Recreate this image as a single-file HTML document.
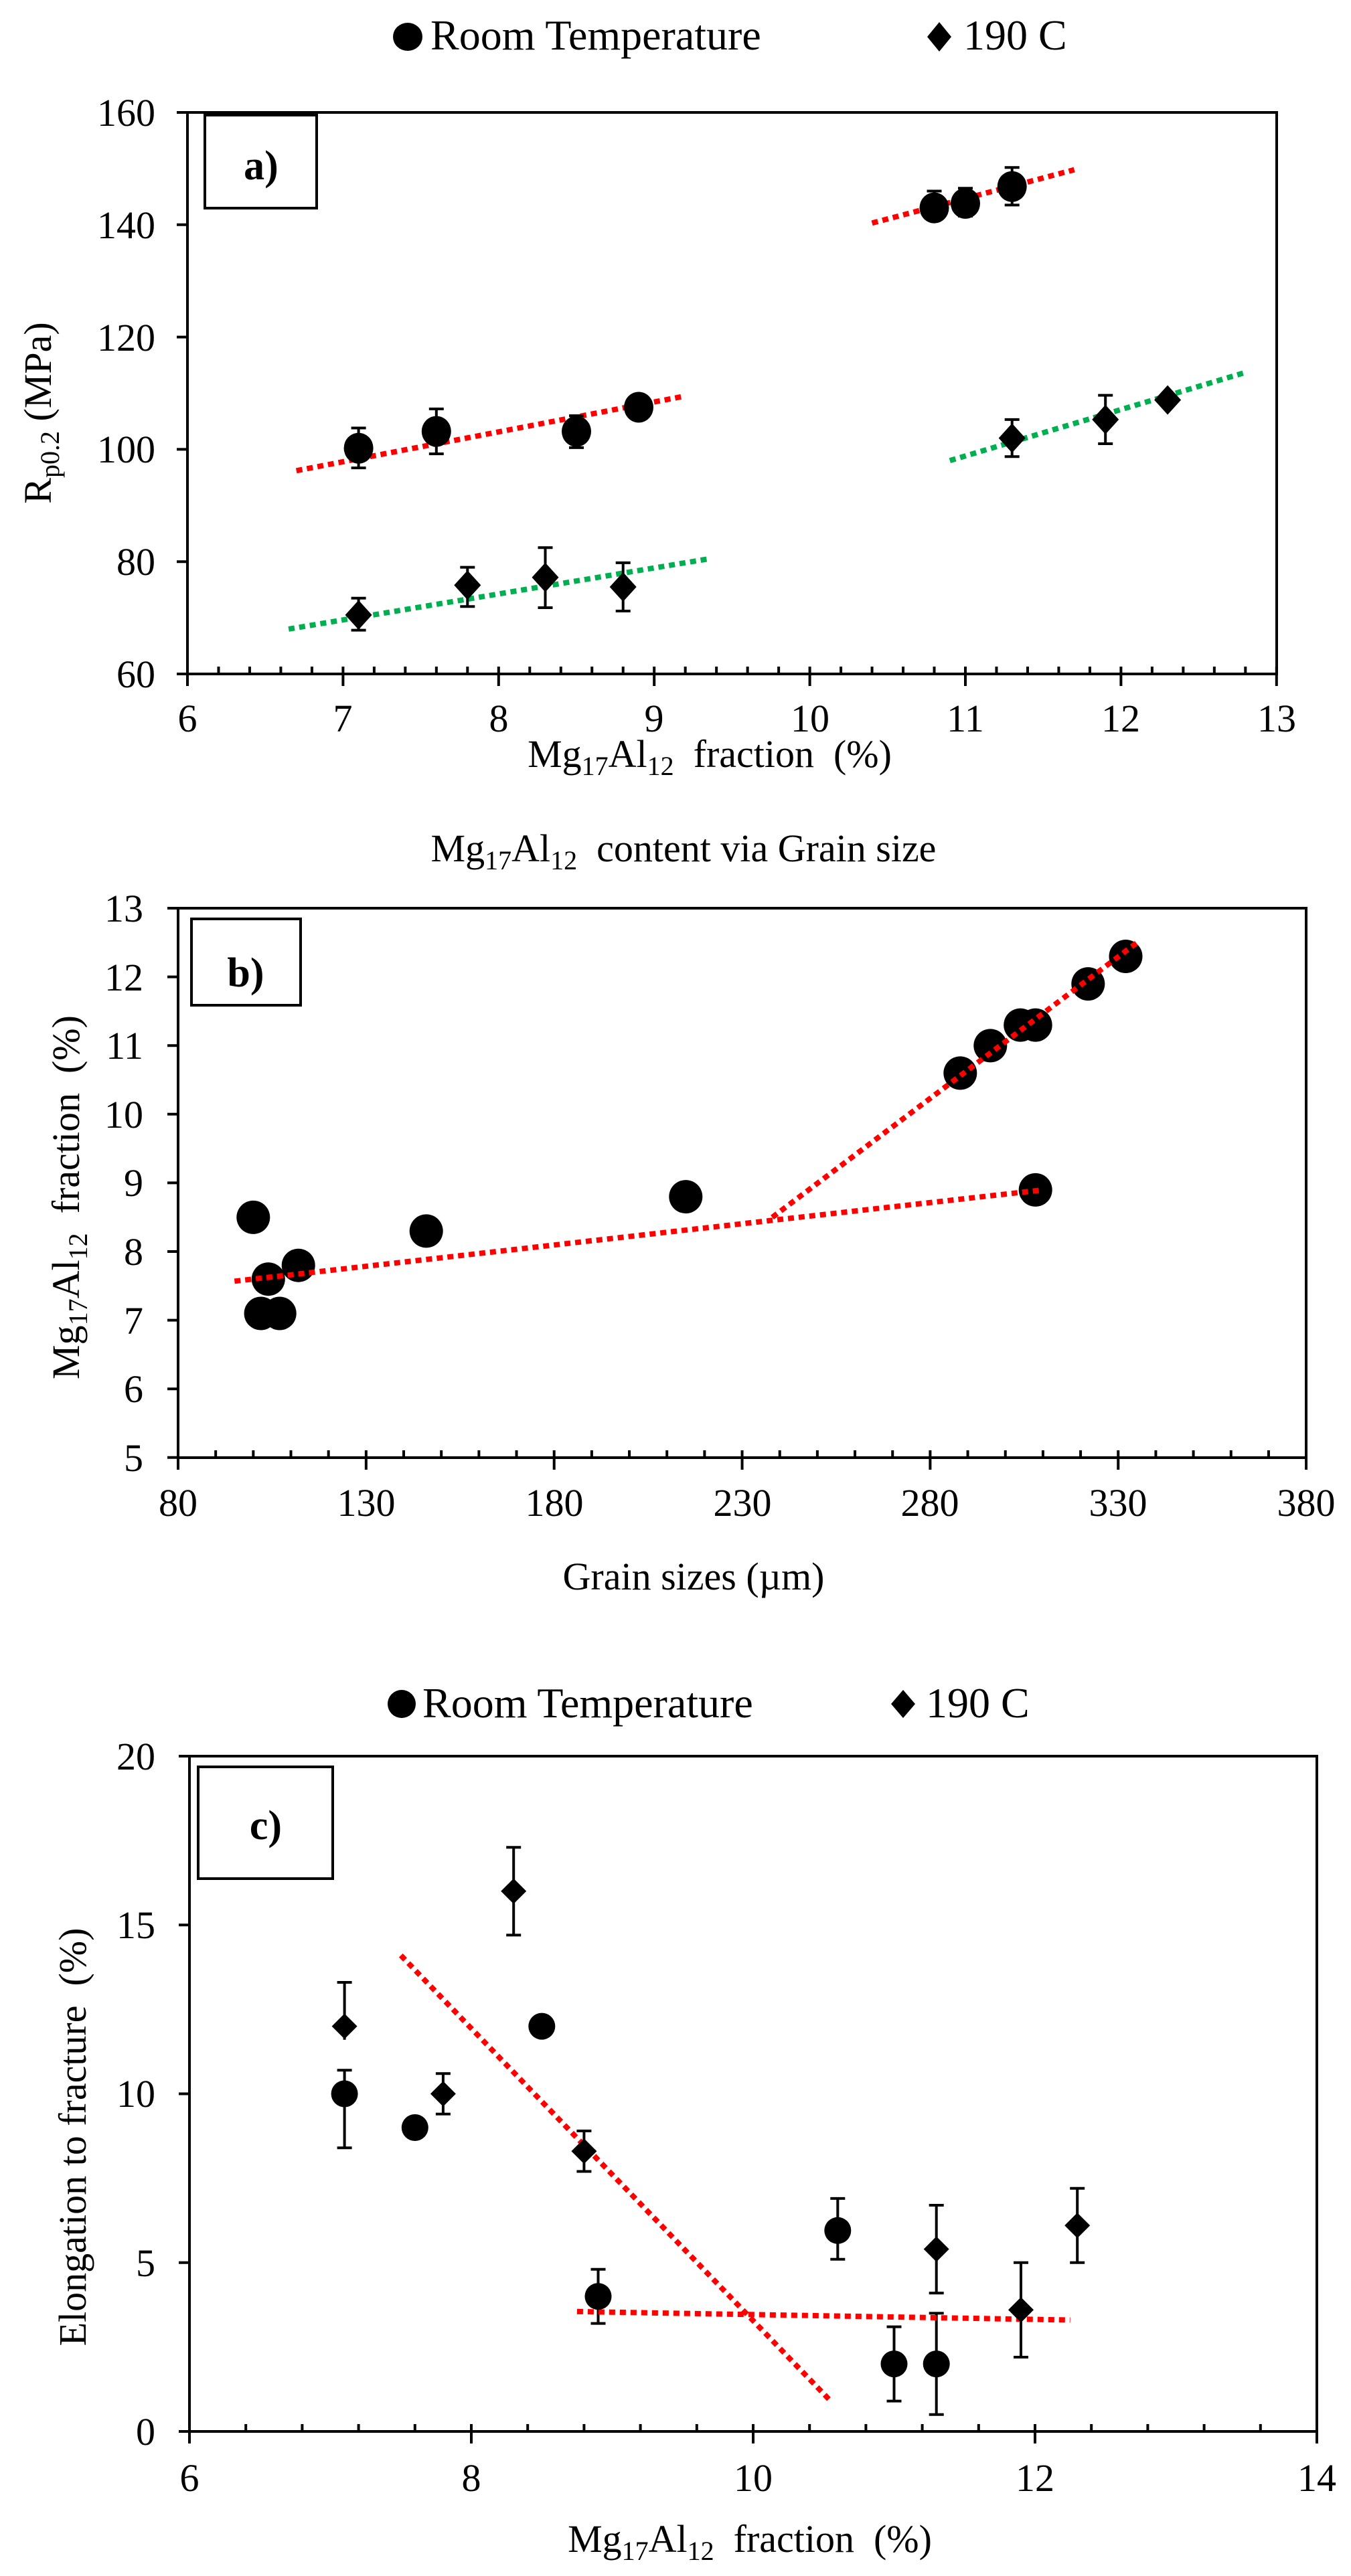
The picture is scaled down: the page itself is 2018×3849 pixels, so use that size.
<!DOCTYPE html>
<html><head><meta charset="utf-8"><style>
html,body{margin:0;padding:0;background:#fff}
svg{display:block}
text{font-family:"Liberation Serif",serif;fill:#000}
</style></head><body>
<svg width="2018" height="3849" viewBox="0 0 2018 3849" xmlns="http://www.w3.org/2000/svg">
<rect width="2018" height="3849" fill="#fff"/>

<!-- ===== Panel a ===== -->
<ellipse cx="609" cy="55" rx="22" ry="21"/>
<text x="643" y="74" font-size="64">Room Temperature</text>
<polygon points="1403,33 1421,55 1403,77 1385,55"/>
<text x="1439" y="74" font-size="64">190 C</text>

<g stroke="#000" stroke-width="4" fill="none">
<rect x="280" y="168" width="1627" height="839"/>
<rect x="306" y="172" width="167" height="139"/>
<line x1="306" y1="170" x2="473" y2="170" stroke-width="6"/>
<line x1="278" y1="1001.5" x2="1910" y2="1001.5" stroke-width="11" stroke-dasharray="4 42.48"/>
<line x1="278" y1="1016" x2="1910" y2="1016" stroke-width="18" stroke-dasharray="4 228.4"/>
<line x1="272" y1="166" x2="272" y2="1012" stroke-width="16" stroke-dasharray="4 163.8"/>
</g>
<text x="390" y="268" font-size="62" font-weight="bold" text-anchor="middle">a)</text>
<g font-size="58" text-anchor="end">
<text x="232" y="188">160</text><text x="232" y="356">140</text><text x="232" y="524">120</text>
<text x="232" y="691">100</text><text x="232" y="859">80</text><text x="232" y="1027">60</text>
</g>
<g font-size="58" text-anchor="middle">
<text x="280" y="1093">6</text><text x="512" y="1093">7</text><text x="745" y="1093">8</text><text x="977" y="1093">9</text>
<text x="1210" y="1093">10</text><text x="1442" y="1093">11</text><text x="1674" y="1093">12</text><text x="1907" y="1093">13</text>
</g>
<text transform="translate(76,617) rotate(-90)" font-size="58" text-anchor="middle">R<tspan font-size="40" dy="12">p0.2</tspan><tspan dy="-12">&#160;(MPa)</tspan></text>
<text x="1060" y="1146" font-size="58" text-anchor="middle">Mg<tspan font-size="40" dy="12">17</tspan><tspan dy="-12">Al</tspan><tspan font-size="40" dy="12">12</tspan><tspan dy="-12">&#160;&#160;fraction&#160;&#160;(%)</tspan></text>

<g stroke-width="8" stroke-dasharray="9 7" fill="none">
<line x1="442.7" y1="703.3" x2="1023.7" y2="591.7" stroke="#ff0000"/>
<line x1="1302.6" y1="333.3" x2="1604.7" y2="253.6" stroke="#ff0000"/>
<line x1="431.1" y1="939.9" x2="1058.5" y2="835" stroke="#00b050"/>
<line x1="1418.8" y1="688.2" x2="1860.3" y2="556.5" stroke="#00b050"/>
</g>
<g stroke="#000" stroke-width="4">
<path d="M535.6 699.1V639.5M524.6 699.1h22M524.6 639.5h22
M651.8 678.1V611M640.8 678.1h22M640.8 611h22
M861 668.9V621.1M850 668.9h22M850 621.1h22
M1395.5 327.4V285.5M1384.5 327.4h22M1384.5 285.5h22
M1442 323V281.3M1431 323h22M1431 281.3h22
M1511.7 306.4V250.2M1500.7 306.4h22M1500.7 250.2h22
M535.6 941.6V893.7M524.6 941.6h22M524.6 893.7h22
M698.3 906.3V847.6M687.3 906.3h22M687.3 847.6h22
M814.5 908V818.2M803.5 908h22M803.5 818.2h22
M930.7 913V840.9M919.7 913h22M919.7 840.9h22
M1511.7 682.3V626.9M1500.7 682.3h22M1500.7 626.9h22
M1651.2 663V590.6M1640.2 663h22M1640.2 590.6h22"/>
</g>
<g>
<ellipse cx="535.6" cy="669.7" rx="22" ry="23"/>
<ellipse cx="651.8" cy="644.6" rx="22" ry="23"/>
<ellipse cx="861" cy="644.6" rx="22" ry="23"/>
<ellipse cx="954" cy="608.5" rx="22" ry="23"/>
<ellipse cx="1395.5" cy="310.6" rx="22" ry="23"/>
<ellipse cx="1442" cy="303.9" rx="22" ry="23"/>
<ellipse cx="1511.7" cy="278.7" rx="22" ry="23"/>
<polygon points="535.6,896.9 555.6,918.9 535.6,940.9 515.6,918.9"/>
<polygon points="698.3,852.4 718.3,874.4 698.3,896.4 678.3,874.4"/>
<polygon points="814.5,840.7 834.5,862.7 814.5,884.7 794.5,862.7"/>
<polygon points="930.7,855 950.7,877 930.7,899 910.7,877"/>
<polygon points="1511.7,632.6 1531.7,654.6 1511.7,676.6 1491.7,654.6"/>
<polygon points="1651.2,604.9 1671.2,626.9 1651.2,648.9 1631.2,626.9"/>
<polygon points="1744.1,575.6 1764.1,597.6 1744.1,619.6 1724.1,597.6"/>
</g>

<!-- ===== Panel b ===== -->
<text x="1021" y="1287" font-size="58" text-anchor="middle">Mg<tspan font-size="40" dy="12">17</tspan><tspan dy="-12">Al</tspan><tspan font-size="40" dy="12">12</tspan><tspan dy="-12">&#160;&#160;content via Grain size</tspan></text>
<g stroke="#000" stroke-width="4" fill="none">
<rect x="266" y="1357" width="1685" height="821"/>
<rect x="286" y="1373" width="163" height="129"/>
<line x1="264" y1="2172.5" x2="1953" y2="2172.5" stroke-width="11" stroke-dasharray="4 52.17"/>
<line x1="264" y1="2187" x2="1953" y2="2187" stroke-width="18" stroke-dasharray="4 276.85"/>
<line x1="258" y1="1355" x2="258" y2="2182" stroke-width="16" stroke-dasharray="4 98.6"/>
</g>
<text x="367" y="1474" font-size="62" font-weight="bold" text-anchor="middle">b)</text>
<g font-size="58" text-anchor="end">
<text x="214" y="1377">13</text><text x="214" y="1480">12</text><text x="214" y="1582">11</text><text x="214" y="1685">10</text>
<text x="214" y="1787">9</text><text x="214" y="1890">8</text><text x="214" y="1993">7</text><text x="214" y="2095">6</text><text x="214" y="2198">5</text>
</g>
<g font-size="58" text-anchor="middle">
<text x="266" y="2265">80</text><text x="547" y="2265">130</text><text x="828" y="2265">180</text><text x="1109" y="2265">230</text>
<text x="1389" y="2265">280</text><text x="1670" y="2265">330</text><text x="1951" y="2265">380</text>
</g>
<text transform="translate(118,1789) rotate(-90)" font-size="58" text-anchor="middle">Mg<tspan font-size="40" dy="12">17</tspan><tspan dy="-12">Al</tspan><tspan font-size="40" dy="12">12</tspan><tspan dy="-12">&#160;&#160;fraction&#160;&#160;(%)</tspan></text>
<text x="1036" y="2375" font-size="58" text-anchor="middle">Grain sizes (µm)</text>
<g>
<ellipse cx="378.3" cy="1818.9" rx="25" ry="25"/>
<ellipse cx="389.6" cy="1962.5" rx="25" ry="25"/>
<ellipse cx="400.8" cy="1911.2" rx="25" ry="25"/>
<ellipse cx="417.7" cy="1962.5" rx="25" ry="25"/>
<ellipse cx="445.7" cy="1890.7" rx="25" ry="25"/>
<ellipse cx="636.7" cy="1839.4" rx="25" ry="25"/>
<ellipse cx="1024.3" cy="1788.1" rx="25" ry="25"/>
<ellipse cx="1434.3" cy="1603.4" rx="25" ry="25"/>
<ellipse cx="1479.3" cy="1562.4" rx="25" ry="25"/>
<ellipse cx="1524.2" cy="1531.6" rx="25" ry="25"/>
<ellipse cx="1546.7" cy="1531.6" rx="25" ry="25"/>
<ellipse cx="1546.7" cy="1777.9" rx="25" ry="25"/>
<ellipse cx="1625.3" cy="1470.1" rx="25" ry="25"/>
<ellipse cx="1681.5" cy="1429" rx="25" ry="25"/>
</g>
<g stroke="#ff0000" stroke-width="8" stroke-dasharray="9 7" fill="none">
<polyline points="350.3,1914.3 1147.9,1824 1558,1777.9"/>
<line x1="1153.5" y1="1818.9" x2="1698.3" y2="1408.5"/>
</g>

<!-- ===== Panel c ===== -->
<ellipse cx="600" cy="2546" rx="21" ry="21"/>
<text x="631" y="2566" font-size="64">Room Temperature</text>
<polygon points="1349,2525 1367,2546 1349,2567 1331,2546"/>
<text x="1383" y="2566" font-size="64">190 C</text>
<g stroke="#000" stroke-width="4" fill="none">
<rect x="283" y="2624" width="1684" height="1009"/>
<rect x="296" y="2640" width="201" height="167"/>
<line x1="281" y1="3627.5" x2="1969" y2="3627.5" stroke-width="11" stroke-dasharray="4 80.2"/>
<line x1="281" y1="3642" x2="1969" y2="3642" stroke-width="18" stroke-dasharray="4 417"/>
<line x1="275" y1="2622" x2="275" y2="3637" stroke-width="16" stroke-dasharray="4 248.25"/>
</g>
<text x="397" y="2748" font-size="62" font-weight="bold" text-anchor="middle">c)</text>
<g font-size="58" text-anchor="end">
<text x="232" y="2644">20</text><text x="232" y="2896">15</text><text x="232" y="3148">10</text>
<text x="232" y="3401">5</text><text x="232" y="3653">0</text>
</g>
<g font-size="58" text-anchor="middle">
<text x="283" y="3722">6</text><text x="704" y="3722">8</text><text x="1125" y="3722">10</text>
<text x="1546" y="3722">12</text><text x="1967" y="3722">14</text>
</g>
<text transform="translate(128,3193) rotate(-90)" font-size="58" text-anchor="middle">Elongation to fracture&#160;&#160;(%)</text>
<text x="1120" y="3813" font-size="58" text-anchor="middle">Mg<tspan font-size="40" dy="12">17</tspan><tspan dy="-12">Al</tspan><tspan font-size="40" dy="12">12</tspan><tspan dy="-12">&#160;&#160;fraction&#160;&#160;(%)</tspan></text>
<g stroke="#000" stroke-width="4">
<path d="M514.6 3209.2V3093.2M503.6 3209.2h22M503.6 3093.2h22
M893.5 3471.6V3390.8M882.5 3471.6h22M882.5 3390.8h22
M1251.3 3375.7V3284.9M1240.3 3375.7h22M1240.3 3284.9h22
M1335.5 3587.6V3476.6M1324.5 3587.6h22M1324.5 3476.6h22
M1398.7 3607.8V3456.4M1387.7 3607.8h22M1387.7 3456.4h22
M514.6 3047.8V2962M503.6 2962h22
M661.9 3158.8V3098.2M650.9 3158.8h22M650.9 3098.2h22
M767.2 2891.4V2760.2M756.2 2891.4h22M756.2 2760.2h22
M872.4 3244.5V3184M861.4 3244.5h22M861.4 3184h22
M1398.7 3426.2V3295M1387.7 3426.2h22M1387.7 3295h22
M1525 3522V3380.8M1514 3522h22M1514 3380.8h22
M1609.2 3380.8V3269.8M1598.2 3380.8h22M1598.2 3269.8h22"/>
</g>
<g stroke="#ff0000" stroke-width="8" stroke-dasharray="9 7" fill="none">
<line x1="598.8" y1="2921.7" x2="1240.8" y2="3587.6"/>
<line x1="861.9" y1="3453.9" x2="1598.6" y2="3466.5"/>
</g>
<g>
<ellipse cx="514.6" cy="3128.5" rx="20" ry="20"/>
<ellipse cx="619.8" cy="3179" rx="20" ry="20"/>
<ellipse cx="809.3" cy="3027.6" rx="20" ry="20"/>
<ellipse cx="893.5" cy="3431.2" rx="20" ry="20"/>
<ellipse cx="1251.3" cy="3332.8" rx="20" ry="20"/>
<ellipse cx="1335.5" cy="3532.1" rx="20" ry="20"/>
<ellipse cx="1398.7" cy="3532.1" rx="20" ry="20"/>
<polygon points="514.6,3008.6 533.6,3027.6 514.6,3046.6 495.6,3027.6"/>
<polygon points="661.9,3109.5 680.9,3128.5 661.9,3147.5 642.9,3128.5"/>
<polygon points="767.2,2806.8 786.2,2825.8 767.2,2844.8 748.2,2825.8"/>
<polygon points="872.4,3195.3 891.4,3214.3 872.4,3233.3 853.4,3214.3"/>
<polygon points="1398.7,3341.6 1417.7,3360.6 1398.7,3379.6 1379.7,3360.6"/>
<polygon points="1525,3432.4 1544,3451.4 1525,3470.4 1506,3451.4"/>
<polygon points="1609.2,3306.3 1628.2,3325.3 1609.2,3344.3 1590.2,3325.3"/>
</g>
</svg>
</body></html>
